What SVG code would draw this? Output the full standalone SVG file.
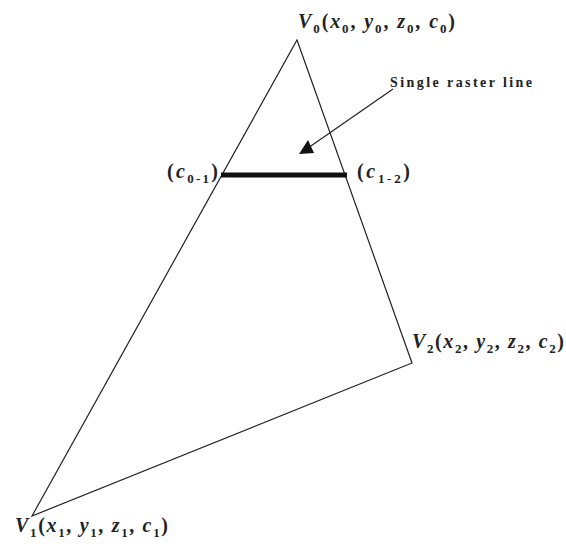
<svg xmlns="http://www.w3.org/2000/svg" width="566" height="547" viewBox="0 0 566 547">
<style>
.lbl{font-family:"Liberation Serif","Times New Roman",serif;font-size:20px;font-weight:bold;fill:#222}
.v{font-style:italic}
.s{font-size:13px}
.note{font-family:"Liberation Serif","Times New Roman",serif;font-size:14px;font-weight:bold;fill:#222}
.edge{stroke:#222;stroke-width:1.2;fill:none}
</style>
<rect width="566" height="547" fill="#fff"/>
<g id="triangle">
<polygon class="edge" points="297,40 412,363 32,516"/>
</g>
<g id="raster-line">
<line x1="221" y1="175" x2="347" y2="175" stroke="#111" stroke-width="5"/>
</g>
<g id="connectors">
<line class="edge" x1="393" y1="89" x2="308" y2="148"/>
<polygon points="299,154 308,140 314,153" fill="#111"/>
</g>
<g id="V0">
<text class="lbl" x="298" y="28" textLength="157" lengthAdjust="spacing"><tspan class="v">V</tspan><tspan class="s" dy="5">0</tspan><tspan dy="-5">(</tspan><tspan class="v">x</tspan><tspan class="s" dy="5">0</tspan><tspan dy="-5">, </tspan><tspan class="v">y</tspan><tspan class="s" dy="5">0</tspan><tspan dy="-5">, </tspan><tspan class="v">z</tspan><tspan class="s" dy="5">0</tspan><tspan dy="-5">, </tspan><tspan class="v">c</tspan><tspan class="s" dy="5">0</tspan><tspan dy="-5">)</tspan></text>
</g>
<g id="V2">
<text class="lbl" x="412" y="348" textLength="152" lengthAdjust="spacing"><tspan class="v">V</tspan><tspan class="s" dy="5">2</tspan><tspan dy="-5">(</tspan><tspan class="v">x</tspan><tspan class="s" dy="5">2</tspan><tspan dy="-5">, </tspan><tspan class="v">y</tspan><tspan class="s" dy="5">2</tspan><tspan dy="-5">, </tspan><tspan class="v">z</tspan><tspan class="s" dy="5">2</tspan><tspan dy="-5">, </tspan><tspan class="v">c</tspan><tspan class="s" dy="5">2</tspan><tspan dy="-5">)</tspan></text>
</g>
<g id="V1">
<text class="lbl" x="15" y="532" textLength="153" lengthAdjust="spacing"><tspan class="v">V</tspan><tspan class="s" dy="5">1</tspan><tspan dy="-5">(</tspan><tspan class="v">x</tspan><tspan class="s" dy="5">1</tspan><tspan dy="-5">, </tspan><tspan class="v">y</tspan><tspan class="s" dy="5">1</tspan><tspan dy="-5">, </tspan><tspan class="v">z</tspan><tspan class="s" dy="5">1</tspan><tspan dy="-5">, </tspan><tspan class="v">c</tspan><tspan class="s" dy="5">1</tspan><tspan dy="-5">)</tspan></text>
</g>
<g id="c01">
<text class="lbl" x="167" y="178" textLength="51" lengthAdjust="spacing">(<tspan class="v">c</tspan><tspan class="s" dy="5">0-1</tspan><tspan dy="-5">)</tspan></text>
</g>
<g id="c12">
<text class="lbl" x="357" y="178" textLength="53" lengthAdjust="spacing">(<tspan class="v">c</tspan><tspan class="s" dy="5">1-2</tspan><tspan dy="-5">)</tspan></text>
</g>
<g id="note">
<text class="note" x="390" y="87" textLength="142" lengthAdjust="spacing">Single raster line</text>
</g>
</svg>
